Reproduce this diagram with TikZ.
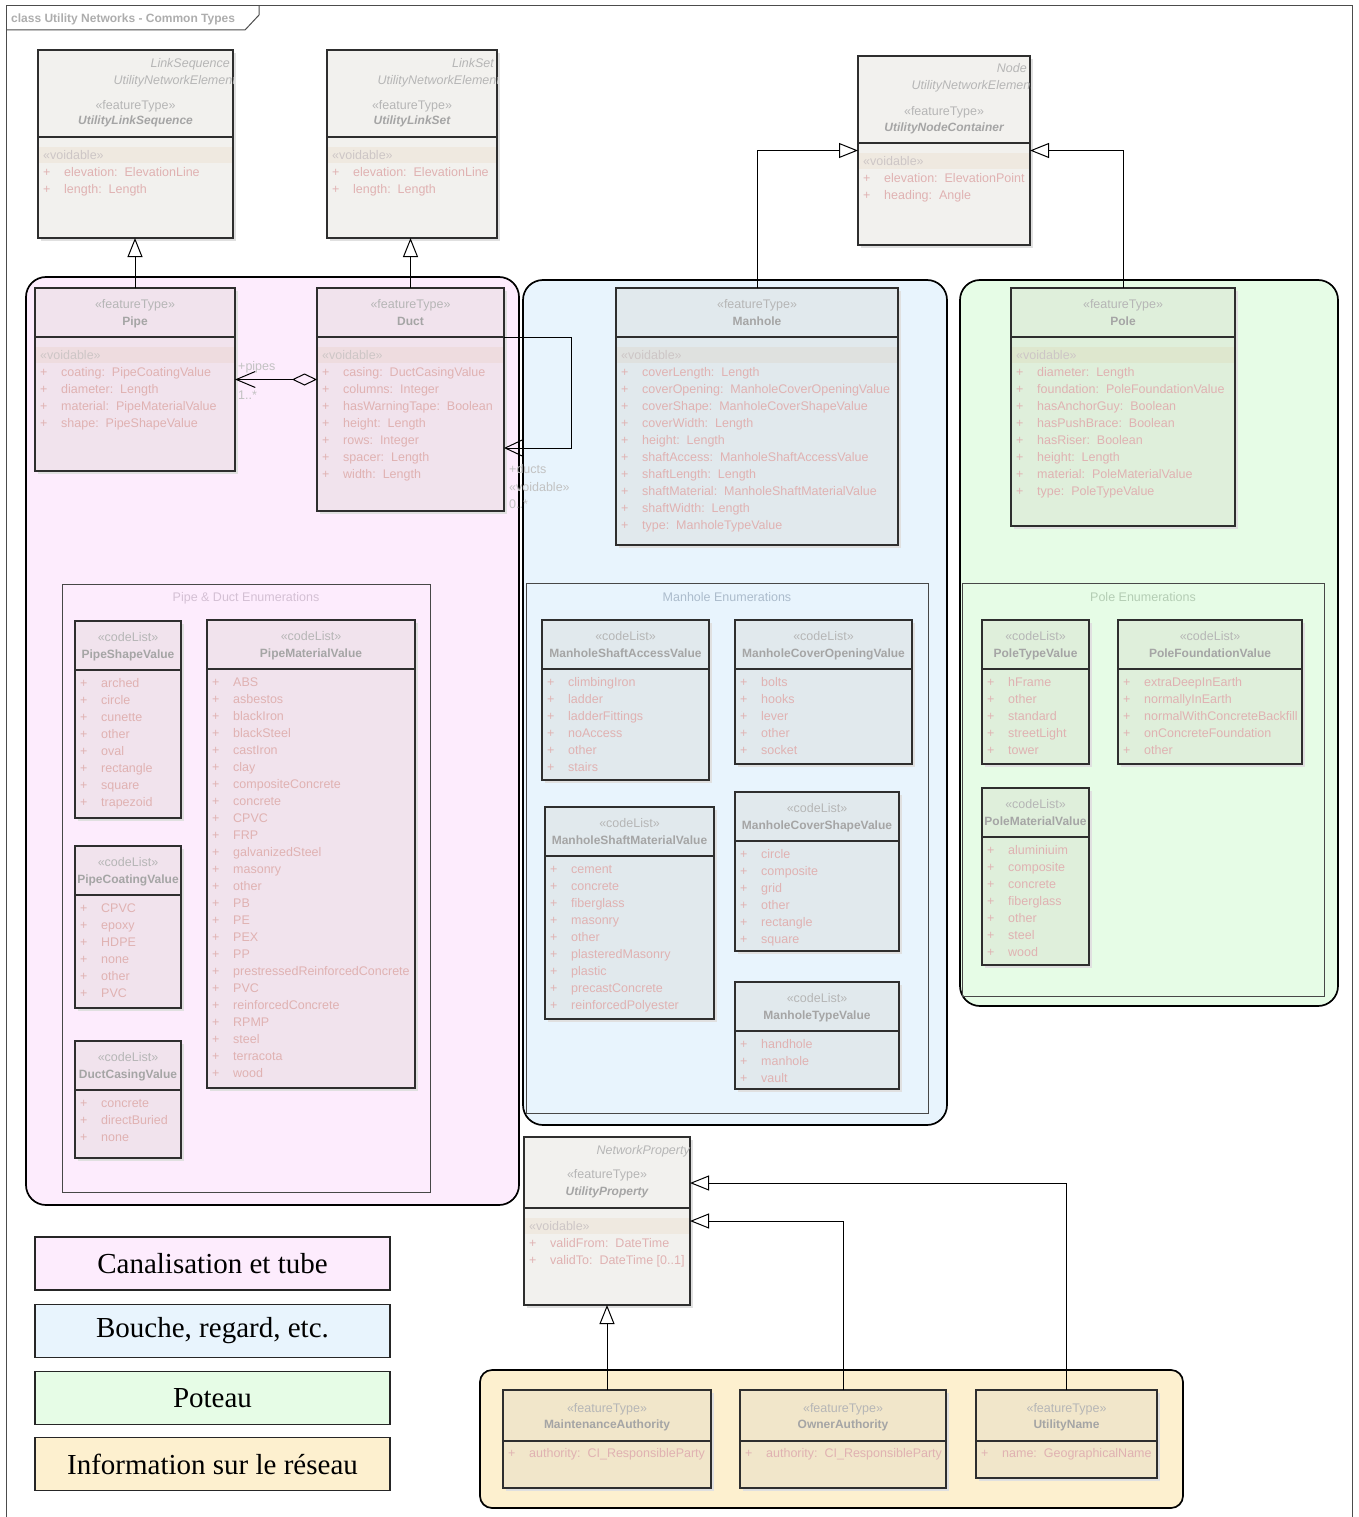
\documentclass[tikz,border=0pt]{standalone}
\usepackage{fontspec}
\setmainfont{Liberation Sans}
\newfontfamily\legendfont{Liberation Serif}
\usetikzlibrary{arrows.meta}

\definecolor{pipepkg}{RGB}{253,236,253}
\definecolor{manholepkg}{RGB}{232,244,253}
\definecolor{polepkg}{RGB}{230,252,230}
\definecolor{infopkg}{RGB}{253,240,207}
\definecolor{clstone}{RGB}{203,199,187}
\definecolor{hdtxt}{RGB}{182,182,182}
\definecolor{nmtxt}{RGB}{165,165,165}
\definecolor{attrtxt}{RGB}{224,178,178}
\definecolor{voidtxt}{RGB}{205,198,198}
\definecolor{pipeenum}{RGB}{212,192,212}
\definecolor{manholeenum}{RGB}{172,188,204}
\definecolor{poleenum}{RGB}{180,205,180}
\colorlet{clsplain}{clstone!25!white}
\colorlet{pipecls}{clstone!25!pipepkg}
\colorlet{manholecls}{clstone!25!manholepkg}
\colorlet{polecls}{clstone!25!polepkg}
\colorlet{infocls}{clstone!25!infopkg}

% class box: name, fill, x, y, width, height, header height
\newcommand{\umlclass}[7]{%
  \fill[clsshadow] (#3+3,#4+3) rectangle (#3+#5+3,#4+#6+3);
  \node[cls, fill=#2, minimum width=#5pt, minimum height=#6pt] (#1) at (#3,#4) {};
  \draw[clsline] (#3,#4+#7) -- (#3+#5,#4+#7);
}
% attribute rows: prefix, x, first y, list
\newcommand{\umlitems}[4]{%
  \foreach \t [count=\i from 0] in {#4}{
    \node[itemtxt] (#1-p\i) at (#2+5,#3+17*\i) {+};
    \node[itemtxt] (#1-a\i) at (#2+26,#3+17*\i) {\t};
  }
}
% voidable row: prefix, x, separator y, width
\newcommand{\umlvoid}[4]{%
  \fill[voidband] (#2+1,#3+10) rectangle (#2+#4-1,#3+26);
  \node[voidst] (#1-void) at (#2+5,#3+18) {«voidable»};
}
% code list: name, fill, x, y, width, height, title, values
\newcommand{\umlcode}[8]{%
  \umlclass{#1}{#2}{#3}{#4}{#5}{#6}{49}
  \node[stereo] (#1-st) at (#3+#5/2,#4+16) {«codeList»};
  \node[clsname] (#1-nm) at (#3+#5/2,#4+33) {#7};
  \umlitems{#1}{#3}{#4+62}{#8}
}

\begin{document}
\begin{tikzpicture}[x=1pt, y=-1pt,
    cls/.style={draw=black!82, line width=1.3pt, anchor=north west, inner sep=0pt, outer sep=0pt},
    clsline/.style={black!82, line width=1.3pt},
    clsshadow/.style={fill=black!12},
    txt/.style={inner sep=0pt, text height=10.5pt, text depth=1.5pt, font=\fontsize{12.5}{15}\selectfont},
    itemtxt/.style={txt, anchor=west, text=attrtxt},
    stereo/.style={txt, text=hdtxt},
    clsname/.style={txt, text=nmtxt, font=\bfseries\fontsize{12}{14}\selectfont},
    absname/.style={clsname, font=\bfseries\itshape\fontsize{12}{14}\selectfont},
    parent/.style={txt, anchor=east, text=hdtxt, font=\itshape\fontsize{12.5}{15}\selectfont},
    voidst/.style={txt, anchor=west, text=voidtxt},
    voidband/.style={fill=brown!70!orange, fill opacity=0.07},
    pkg/.style={draw=black, line width=1.7pt, rounded corners=20pt},
    subpkg/.style={draw=black!72, line width=0.9pt},
    pkgtitle/.style={txt},
    gen/.style={-{Triangle[open, length=19pt, width=15pt]}, line width=1pt},
    agg/.style={{Diamond[open, length=25pt, width=12pt]}-{Straight Barb[length=19pt, width=16pt]}, line width=1pt},
    assoc/.style={-{Straight Barb[length=17pt, width=16pt]}, line width=1pt},
    rolelbl/.style={txt, anchor=west, text=black!24},
    legend/.style={draw=black!85, line width=1.3pt, minimum width=355pt, minimum height=53pt, inner sep=0pt, font=\legendfont\fontsize{29}{32}\selectfont},
    framebd/.style={draw=black!70, line width=1pt}]
  \useasboundingbox (0,0) rectangle (1359,1517);

  % diagram frame
  \draw[framebd] (6,1517) -- (6,6) -- (1352,6) -- (1352,1517);
  \draw[framebd] (6,30) -- (245,30) -- (259,15) -- (259,6);
  \node[txt, anchor=west, text=black!32, font=\bfseries\fontsize{12}{14}\selectfont] (frame-title) at (11,18) {class Utility Networks - Common Types};

  % packages
  \draw[pkg, fill=pipepkg] (26,277) rectangle (519,1205);
  \draw[pkg, fill=manholepkg] (523,280) rectangle (947,1125);
  \draw[pkg, fill=polepkg] (960,280) rectangle (1338,1006);
  \draw[pkg, fill=infopkg, rounded corners=12pt] (480,1370) rectangle (1183,1508);
  \draw[subpkg] (62,584) rectangle (430,1192);
  \draw[subpkg] (526,583) rectangle (928,1113);
  \draw[subpkg] (962,583) rectangle (1324,996);
  \node[pkgtitle, text=pipeenum] (pipe-enum) at (246,597) {Pipe \& Duct Enumerations};
  \node[pkgtitle, text=manholeenum] (manhole-enum) at (727,597) {Manhole Enumerations};
  \node[pkgtitle, text=poleenum] (pole-enum) at (1143,597) {Pole Enumerations};

  % abstract parents
  \umlclass{linkseq}{clsplain}{38}{50}{195}{188}{87}
  \begin{scope}
    \clip (38,50) rectangle (233,137);
    \node[parent] (linkseq-g1) at (230,63) {LinkSequence};
    \node[parent] (linkseq-g2) at (236,80) {UtilityNetworkElement};
  \end{scope}
  \node[stereo] (linkseq-st) at (135.5,105) {«featureType»};
  \node[absname] (linkseq-nm) at (135.5,120) {UtilityLinkSequence};
  \umlvoid{linkseq}{38}{137}{195}
  \umlitems{linkseq}{38}{172}{elevation:~~ElevationLine, length:~~Length}

  \umlclass{linkset}{clsplain}{327}{50}{170}{188}{87}
  \begin{scope}
    \clip (327,50) rectangle (497,137);
    \node[parent] (linkset-g1) at (494,63) {LinkSet};
    \node[parent] (linkset-g2) at (500,80) {UtilityNetworkElement};
  \end{scope}
  \node[stereo] (linkset-st) at (412,105) {«featureType»};
  \node[absname] (linkset-nm) at (412,120) {UtilityLinkSet};
  \umlvoid{linkset}{327}{137}{170}
  \umlitems{linkset}{327}{172}{elevation:~~ElevationLine, length:~~Length}

  \umlclass{nodecont}{clsplain}{858}{56}{172}{189}{87}
  \begin{scope}
    \clip (858,56) rectangle (1030,143);
    \node[parent] (nodecont-g1) at (1027,68) {Node};
    \node[parent] (nodecont-g2) at (1034,85) {UtilityNetworkElement};
  \end{scope}
  \node[stereo] (nodecont-st) at (944,111) {«featureType»};
  \node[absname] (nodecont-nm) at (944,127) {UtilityNodeContainer};
  \umlvoid{nodecont}{858}{143}{172}
  \umlitems{nodecont}{858}{178}{elevation:~~ElevationPoint, heading:~~Angle}

  % pipe and duct
  \umlclass{pipe}{pipecls}{35}{288}{200}{183}{49}
  \node[stereo] (pipe-st) at (135,304) {«featureType»};
  \node[clsname] (pipe-nm) at (135,321) {Pipe};
  \umlvoid{pipe}{35}{337}{200}
  \umlitems{pipe}{35}{372}{coating:~~PipeCoatingValue, diameter:~~Length, material:~~PipeMaterialValue, shape:~~PipeShapeValue}

  \umlclass{duct}{pipecls}{317}{288}{187}{223}{49}
  \node[stereo] (duct-st) at (410.5,304) {«featureType»};
  \node[clsname] (duct-nm) at (410.5,321) {Duct};
  \umlvoid{duct}{317}{337}{187}
  \umlitems{duct}{317}{372}{casing:~~DuctCasingValue, columns:~~Integer, hasWarningTape:~~Boolean, height:~~Length, rows:~~Integer, spacer:~~Length, width:~~Length}

  \umlcode{pipeshape}{pipecls}{75}{621}{106}{197}{PipeShapeValue}{arched, circle, cunette, other, oval, rectangle, square, trapezoid}
  \umlcode{pipecoat}{pipecls}{75}{846}{106}{162}{PipeCoatingValue}{CPVC, epoxy, HDPE, none, other, PVC}
  \umlcode{ductcasing}{pipecls}{75}{1041}{106}{117}{DuctCasingValue}{concrete, directBuried, none}
  \umlcode{pipemat}{pipecls}{207}{620}{208}{468}{PipeMaterialValue}{ABS, asbestos, blackIron, blackSteel, castIron, clay, compositeConcrete, concrete, CPVC, FRP, galvanizedSteel, masonry, other, PB, PE, PEX, PP, prestressedReinforcedConcrete, PVC, reinforcedConcrete, RPMP, steel, terracota, wood}

  % manhole
  \umlclass{manhole}{manholecls}{616}{288}{282}{257}{49}
  \node[stereo] (manhole-st) at (757,304) {«featureType»};
  \node[clsname] (manhole-nm) at (757,321) {Manhole};
  \umlvoid{manhole}{616}{337}{282}
  \umlitems{manhole}{616}{372}{coverLength:~~Length, coverOpening:~~ManholeCoverOpeningValue, coverShape:~~ManholeCoverShapeValue, coverWidth:~~Length, height:~~Length, shaftAccess:~~ManholeShaftAccessValue, shaftLength:~~Length, shaftMaterial:~~ManholeShaftMaterialValue, shaftWidth:~~Length, type:~~ManholeTypeValue}

  \umlcode{shaftaccess}{manholecls}{542}{620}{167}{160}{ManholeShaftAccessValue}{climbingIron, ladder, ladderFittings, noAccess, other, stairs}
  \umlcode{coveropen}{manholecls}{735}{620}{177}{144}{ManholeCoverOpeningValue}{bolts, hooks, lever, other, socket}
  \umlcode{shaftmat}{manholecls}{545}{807}{169}{212}{ManholeShaftMaterialValue}{cement, concrete, fiberglass, masonry, other, plasteredMasonry, plastic, precastConcrete, reinforcedPolyester}
  \umlcode{covershape}{manholecls}{735}{792}{164}{159}{ManholeCoverShapeValue}{circle, composite, grid, other, rectangle, square}
  \umlcode{manholetype}{manholecls}{735}{982}{164}{107}{ManholeTypeValue}{handhole, manhole, vault}

  % pole
  \umlclass{pole}{polecls}{1011}{288}{224}{238}{49}
  \node[stereo] (pole-st) at (1123,304) {«featureType»};
  \node[clsname] (pole-nm) at (1123,321) {Pole};
  \umlvoid{pole}{1011}{337}{224}
  \umlitems{pole}{1011}{372}{diameter:~~Length, foundation:~~PoleFoundationValue, hasAnchorGuy:~~Boolean, hasPushBrace:~~Boolean, hasRiser:~~Boolean, height:~~Length, material:~~PoleMaterialValue, type:~~PoleTypeValue}

  \umlcode{poletype}{polecls}{982}{620}{107}{144}{PoleTypeValue}{hFrame, other, standard, streetLight, tower}
  \umlcode{polefound}{polecls}{1118}{620}{184}{144}{PoleFoundationValue}{extraDeepInEarth, normallyInEarth, normalWithConcreteBackfill, onConcreteFoundation, other}
  \umlcode{polemat}{polecls}{982}{788}{107}{177}{PoleMaterialValue}{aluminiuim, composite, concrete, fiberglass, other, steel, wood}

  % network information
  \umlclass{utilprop}{clsplain}{524}{1137}{166}{168}{71}
  \begin{scope}
    \clip (524,1137) rectangle (690,1208);
    \node[parent] (utilprop-g1) at (690,1150) {NetworkProperty};
  \end{scope}
  \node[stereo] (utilprop-st) at (607,1174) {«featureType»};
  \node[absname] (utilprop-nm) at (607,1191) {UtilityProperty};
  \umlvoid{utilprop}{524}{1208}{166}
  \umlitems{utilprop}{524}{1243}{validFrom:~~DateTime, validTo:~~DateTime [0..1]}

  \umlclass{maint}{infocls}{503}{1390}{208}{98}{51}
  \node[stereo] (maint-st) at (607,1408) {«featureType»};
  \node[clsname] (maint-nm) at (607,1424) {MaintenanceAuthority};
  \umlitems{maint}{503}{1453}{authority:~~CI\_ResponsibleParty}

  \umlclass{owner}{infocls}{740}{1390}{206}{98}{51}
  \node[stereo] (owner-st) at (843,1408) {«featureType»};
  \node[clsname] (owner-nm) at (843,1424) {OwnerAuthority};
  \umlitems{owner}{740}{1453}{authority:~~CI\_ResponsibleParty}

  \umlclass{utilname}{infocls}{976}{1390}{181}{88}{51}
  \node[stereo] (utilname-st) at (1066.5,1408) {«featureType»};
  \node[clsname] (utilname-nm) at (1066.5,1424) {UtilityName};
  \umlitems{utilname}{976}{1453}{name:~~GeographicalName}

  % connectors
  \draw[gen] (pipe.north) -- (pipe.north |- linkseq.south);
  \draw[gen] (duct.north) -- (duct.north |- linkset.south);
  \draw[gen] (manhole.north) |- (nodecont.west);
  \draw[gen] (pole.north) |- (nodecont.east);
  \draw[gen] (maint.north) -- (maint.north |- utilprop.south);
  \draw[gen] (owner.north) |- (utilprop.east);
  \draw[gen] (utilname.north) |- ([yshift=38pt]utilprop.east);
  \draw[agg] (duct.west |- pipe.east) -- (pipe.east);
  \coordinate (ductloop-a) at (571,337);
  \coordinate (ductloop-b) at (571,448);
  \draw[assoc] (duct.east |- ductloop-a) -- (ductloop-a) -- (ductloop-b) -- (duct.east |- ductloop-b);
  \node[rolelbl] (pipes-role) at (238,366) {+pipes};
  \node[rolelbl] (pipes-mult) at (238,395) {1..*};
  \node[rolelbl] (ducts-role) at (509,469) {+ducts};
  \node[rolelbl] (ducts-st) at (509,487) {«voidable»};
  \node[rolelbl] (ducts-mult) at (509,504) {0..*};

  % legend
  \node[legend, fill=pipepkg] (leg-pipe) at (212.5,1263.5) {Canalisation et tube};
  \node[legend, fill=manholepkg] (leg-manhole) at (212.5,1331) {Bouche, regard, etc.};
  \node[legend, fill=polepkg] (leg-pole) at (212.5,1398) {Poteau};
  \node[legend, fill=infopkg] (leg-info) at (212.5,1464) {Information sur le réseau};
\end{tikzpicture}
\end{document}
